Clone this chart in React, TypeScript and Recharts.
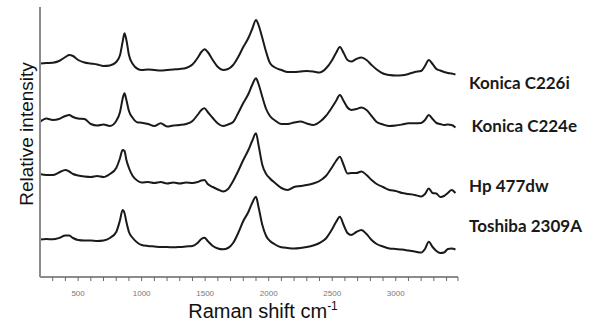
import React from "react";
import { LineChart, Line, XAxis, YAxis } from "recharts";

// Raman shift (cm-1) sample positions
const ramanShift = [
  200, 250, 300, 350, 400, 430, 460, 500, 550, 600, 650, 700, 750, 800, 830, 850, 865, 880, 900, 930,
  970, 1000, 1050, 1100, 1150, 1200, 1250, 1300, 1350, 1400, 1440, 1470, 1495, 1520, 1560, 1600, 1640,
  1680, 1720, 1760, 1800, 1840, 1870, 1900, 1920, 1950, 1980, 2010, 2050, 2100, 2150, 2200, 2250, 2300,
  2350, 2400, 2450, 2500, 2530, 2560, 2590, 2620, 2650, 2690, 2730, 2770, 2810, 2850, 2900, 2950, 3000,
  3050, 3100, 3150, 3200, 3230, 3260, 3290, 3320, 3350, 3380, 3410, 3440, 3470,
];

// stacked spectra (relative intensity, offset)
const konicaC226i = [
  213.5, 214, 214.3, 216, 220, 222, 221, 217, 214.5, 213.5, 212.5, 211, 211.5, 215, 222, 235, 243.7, 237, 222, 213,
  208, 207, 207.5, 207, 206.5, 207, 207.5, 208, 209, 212.5, 219, 225, 227.7, 225, 217, 210, 207,
  208, 212, 220, 230, 239, 248, 257, 252, 239, 225, 214, 209.5, 207, 205, 205, 205.5, 206,
  205.5, 204.5, 208.5, 217, 224, 230, 224, 217, 215.5, 218, 219.5, 217, 212, 207.5, 203.5, 202, 201.5,
  201.7, 203, 205, 206, 211, 217, 213, 208, 206.5, 205, 204, 203.5, 202.5,
];
const konicaC224e = [
  155, 158.5, 157, 158, 161, 162, 160, 158.5, 158, 153, 151.5, 152.5, 151, 156, 165, 178, 183.7, 177, 166, 159,
  154.5, 154.3, 153, 151, 153.7, 150.5, 151.5, 152, 153, 156, 162, 167, 168.7, 165, 159, 153.5, 151,
  152.5, 155, 164, 174, 183, 192, 198.7, 193, 180, 168, 161, 156.5, 153, 153, 154.5, 155.5, 153.5,
  152, 155, 161, 170, 176, 182, 176, 169.5, 167, 168, 169.5, 167, 161, 155, 152.5, 151, 151.5,
  152.5, 153.7, 153.7, 154, 157, 162, 158, 154, 153, 152, 152.5, 152, 149.5,
];
const hp477dw = [
  103, 102, 102, 104.5, 107, 105.5, 103, 101.5, 100.5, 100, 101, 100, 103, 109, 119, 127, 126, 117, 109, 101,
  96, 94.5, 95, 94, 95, 93.5, 94.5, 93.5, 94.5, 94, 95, 96.5, 97, 93, 90, 87.5, 85.5,
  88, 96, 106, 117, 127, 136, 143.7, 132, 112, 103, 98.5, 94, 89, 87, 90, 91, 92,
  93.5, 96, 101, 110, 116, 120.3, 112, 103.5, 104, 104, 105.5, 102, 97, 93, 90, 87, 86,
  84, 83, 82, 80.5, 83, 88.5, 84, 83.5, 80, 81, 84, 87, 84,
];
const toshiba2309A = [
  37.5, 38, 37.7, 39, 41.5, 41.5, 39, 37, 36.5, 36.5, 36, 36.5, 39, 45, 57, 67, 64, 55, 45, 39,
  34, 32, 31, 30.5, 30, 30, 29.7, 30, 30.5, 31, 34, 38, 39.3, 36, 31, 28.5, 27.7,
  29, 34, 44, 56, 65, 74, 80.3, 70, 52, 41, 36, 32.5, 29.7, 29, 28.5, 29, 30,
  31.5, 34, 38.5, 48, 55, 60.3, 52, 44, 42, 45, 47, 43, 37, 33, 30.5, 28.5, 28,
  27.5, 26.5, 25.5, 24.5, 28, 35.3, 30, 26, 24, 24.5, 28, 28.5, 27.5,
];

const seriesNames = ["Konica C226i", "Konica C224e", "Hp 477dw", "Toshiba 2309A"];
const seriesKeys = ["c226i", "c224e", "hp", "toshiba"];

const xTicks = [
  300, 400, 500, 600, 700, 800, 900, 1000, 1100, 1200, 1300, 1400, 1500, 1600, 1700, 1800, 1900, 2000,
  2100, 2200, 2300, 2400, 2500, 2600, 2700, 2800, 2900, 3000, 3100, 3200, 3300, 3400, 3490,
];
const labeledTicks = [500, 1000, 1500, 2000, 2500, 3000];

const data = ramanShift.map((x, i) => ({
  x,
  c226i: konicaC226i[i],
  c224e: konicaC224e[i],
  hp: hp477dw[i],
  toshiba: toshiba2309A[i],
}));

const font = "'Liberation Sans', Arial, sans-serif";

const XTick = (props: any) => {
  const { x, y, payload } = props;
  if (!labeledTicks.includes(payload.value)) return null;
  return (
    <text x={x} y={y} dy="0.71em" textAnchor="middle" fontSize={8} fill="#777" fontFamily={font}>
      {payload.value}
    </text>
  );
};

const labelPos = [
  { x: 469, y: 88.5 },
  { x: 471.5, y: 131.5 },
  { x: 469, y: 191.5 },
  { x: 469, y: 232 },
];

export default function App() {
  return (
    <div style={{ position: "absolute", left: 0, top: 0, width: 598, height: 326, background: "#fff" }}>
      <LineChart width={598} height={326} data={data} margin={{ top: 7, right: 140, left: 39, bottom: 19 }}>
        <XAxis
          dataKey="x"
          type="number"
          domain={[200, 3490]}
          ticks={xTicks}
          interval={0}
          tick={<XTick />}
          tickSize={4}
          tickMargin={9}
          height={30}
          axisLine={{ stroke: "#8c8c8c", strokeWidth: 2 }}
          tickLine={{ stroke: "#666", strokeWidth: 1 }}
        />
        <YAxis
          type="number"
          domain={[0, 270]}
          width={1}
          tick={false}
          tickLine={false}
          axisLine={{ stroke: "#8c8c8c", strokeWidth: 2 }}
        />
        {seriesKeys.map((k) => (
          <Line
            key={k}
            dataKey={k}
            type="monotone"
            stroke="#1a1a1a"
            strokeWidth={2}
            dot={false}
            isAnimationActive={false}
          />
        ))}
      </LineChart>
      <svg
        width={598}
        height={326}
        style={{ position: "absolute", left: 0, top: 0, pointerEvents: "none" }}
      >
        {seriesNames.map((n, i) => (
          <text
            key={n}
            x={labelPos[i].x}
            y={labelPos[i].y}
            fontSize={17}
            fontWeight="bold"
            fill="#1a1a1a"
            fontFamily="Lato, 'Open Sans', sans-serif"
          >
            {n}
          </text>
        ))}
        <text x={263} y={318} textAnchor="middle" fontSize={20} fill="#111" fontFamily={font}>
          Raman shift cm
          <tspan fontSize={12} dy={-8}>-1</tspan>
        </text>
        <text
          transform="translate(33,134) rotate(-90)"
          textAnchor="middle"
          fontSize={19}
          fill="#111"
          fontFamily={font}
        >
          Relative intensity
        </text>
      </svg>
    </div>
  );
}
